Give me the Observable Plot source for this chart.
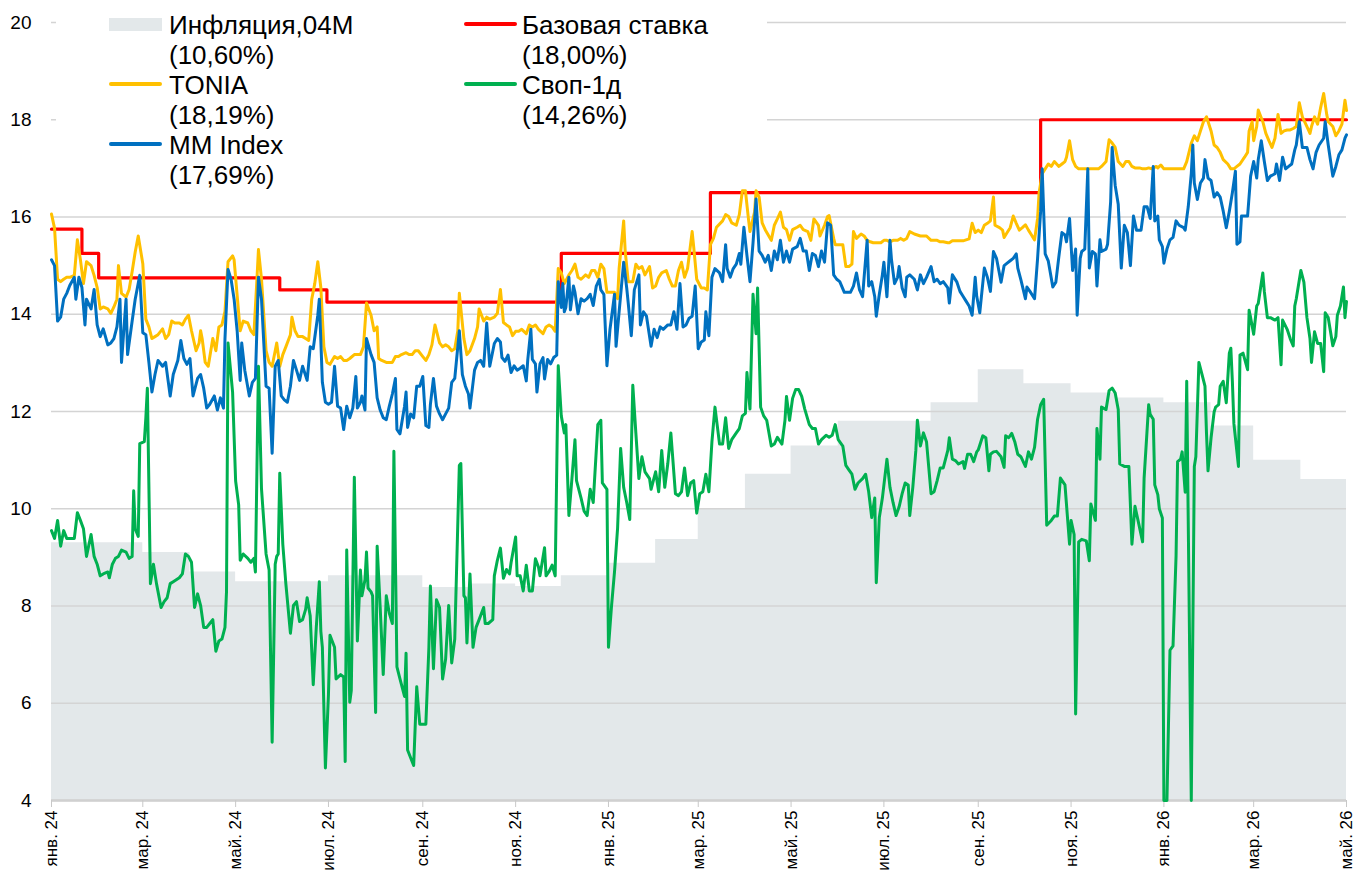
<!DOCTYPE html>
<html><head><meta charset="utf-8">
<script src="https://cdn.jsdelivr.net/npm/d3@7"></script>
<script src="https://cdn.jsdelivr.net/npm/@observablehq/plot@0.6"></script>
<style>
body{margin:0;background:#fff;font-family:"Liberation Sans",Arial,sans-serif;}
#wrap{position:relative;width:1356px;height:874px;overflow:hidden;}
#legend{position:absolute;left:56px;top:0;width:711px;height:186px;background:#fff;}
.txt{position:absolute;font-size:26px;line-height:30px;color:#000;white-space:pre;}
.sw{position:absolute;width:53px;}
</style></head><body><div id="wrap"></div>
<script>
// x values of the daily series are days since 1 Jan 2024
const START = Date.UTC(2024, 0, 1);

const yTicks = [4, 6, 8, 10, 12, 14, 16, 18, 20];
const xTickDates = ["2024-01-01","2024-03-01","2024-05-01","2024-07-01","2024-09-01","2024-11-01","2025-01-01","2025-03-01","2025-05-01","2025-07-01","2025-09-01","2025-11-01","2026-01-01","2026-03-01","2026-05-01"];
const xTickLabels = ["янв. 24","мар. 24","май. 24","июл. 24","сен. 24","ноя. 24","янв. 25","мар. 25","май. 25","июл. 25","сен. 25","ноя. 25","янв. 26","мар. 26","май. 26"];

// Inflation (monthly, step)
const inflMonths = ["2024-01","2024-02","2024-03","2024-04","2024-05","2024-06","2024-07","2024-08","2024-09","2024-10","2024-11","2024-12","2025-01","2025-02","2025-03","2025-04","2025-05","2025-06","2025-07","2025-08","2025-09","2025-10","2025-11","2025-12","2026-01","2026-02","2026-03","2026-04","2026-05"];
const inflValues = [9.3,9.3,9.1,8.7,8.5,8.5,8.62,8.62,8.38,8.45,8.4,8.62,8.88,9.37,10.0,10.71,11.29,11.8,11.8,12.18,12.86,12.57,12.38,12.28,12.18,11.7,11.0,10.6,10.6];

// Key rate (step)
const rateDays = [0,20,31,150,181,335,433,650,851];
const rateValues = [15.75,15.25,14.75,14.5,14.25,15.25,16.5,18.0,18.0];

const tonia = [[0,16.06],[2,15.77],[4,14.72],[6,14.67],[8,14.72],[10,14.76],[12,14.76],[15,14.8],[17,15.53],[19,15.12],[21,14.63],[23,15.08],[26,15.0],[28,14.8],[30,14.55],[32,14.11],[34,14.15],[37,14.11],[39,14.02],[41,14.15],[43,14.31],[44,15.0],[46,14.43],[49,14.35],[51,14.51],[53,14.88],[55,15.28],[57,15.61],[60,15.04],[62,13.9],[64,13.74],[66,13.5],[68,13.54],[70,13.58],[73,13.7],[75,13.5],[77,13.58],[79,13.86],[81,13.82],[84,13.82],[86,13.78],[88,13.9],[90,13.98],[92,13.66],[95,13.25],[97,13.41],[98,13.66],[99,13.5],[101,13.01],[103,12.93],[106,13.5],[108,13.25],[110,13.74],[112,13.78],[114,14.06],[116,15.08],[119,15.2],[120,15.12],[122,14.39],[124,13.66],[126,13.86],[129,13.82],[131,13.66],[133,13.58],[135,14.72],[136,15.33],[138,14.72],[141,13.25],[143,13.01],[145,12.93],
[148,13.41],[150,12.93],[152,13.17],[154,13.33],[157,13.58],[158,13.94],[160,13.66],[162,13.54],[165,13.54],[167,13.5],[169,13.46],[171,14.31],[173,14.63],[175,15.08],[177,14.55],[179,13.33],[181,13.01],[183,12.97],[186,13.13],[188,13.09],[190,13.13],[192,13.05],[194,13.05],[196,13.09],[199,13.17],[201,13.17],[203,13.17],[205,13.33],[207,14.23],[210,13.98],[212,13.66],[214,13.74],[215,13.09],[217,13.05],[220,13.01],[222,13.01],[224,13.01],[226,13.13],[228,13.13],[230,13.17],[233,13.21],[235,13.17],[237,13.17],[239,13.25],[241,13.25],[244,13.13],[246,13.05],[248,13.17],[250,13.37],[252,13.78],[255,13.41],[257,13.33],[259,13.37],[261,13.33],[263,13.25],[265,13.29],[267,13.66],[268,14.43],[271,13.5],[273,13.17],[275,13.25],[278,13.5],[280,13.74],[281,14.11],[284,13.86],[286,13.94],[288,13.9],[291,13.94],[293,14.02],[295,14.51],
[297,13.83],[299,13.78],[301,13.74],[303,13.56],[305,13.65],[307,13.65],[309,13.69],[312,13.6],[314,13.78],[316,13.74],[318,13.78],[320,13.69],[323,13.6],[325,13.74],[327,13.78],[329,13.74],[331,13.65],[333,14.94],[335,14.85],[337,14.63],[340,14.81],[342,14.9],[344,15.03],[346,14.76],[348,14.72],[351,14.81],[353,14.76],[355,14.9],[357,14.9],[359,14.76],[361,15.03],[363,14.94],[365,14.45],[367,14.45],[370,14.45],[372,14.32],[373,14.94],[376,15.92],[377,15.3],[379,14.67],[382,14.67],[384,15.03],[386,14.94],[388,14.98],[390,14.81],[393,14.98],[395,14.54],[397,14.58],[399,14.76],[401,14.85],[404,14.9],[406,14.72],[408,14.58],[410,14.58],[412,14.9],[414,15.07],[416,14.76],[418,14.94],[421,15.7],[422,15.39],[424,14.72],[427,14.54],[429,14.54],[431,14.5],[433,15.43],[435,15.56],[437,15.79],[441,15.92],[443,16.05],
[445,16.01],[447,15.88],[450,15.83],[452,16.05],[454,16.54],[456,16.54],[458,15.96],[459,15.7],[462,16.1],[463,16.54],[465,16.41],[467,15.88],[469,15.74],[473,15.52],[475,15.83],[477,15.96],[479,16.1],[481,15.79],[483,15.74],[485,15.52],[487,15.74],[490,15.79],[492,15.83],[494,15.74],[497,15.7],[499,15.52],[501,15.96],[504,15.83],[505,15.61],[508,15.83],[510,16.01],[511,16.03],[514,15.56],[515,15.43],[517,15.43],[520,15.43],[522,14.98],[524,14.98],[526,15.03],[527,15.7],[529,15.56],[532,15.65],[534,15.61],[536,15.52],[538,15.49],[540,15.47],[542,15.47],[545,15.47],[547,15.52],[549,15.52],[551,15.49],[553,15.52],[556,15.52],[558,15.56],[560,15.52],[562,15.56],[564,15.7],[567,15.65],[569,15.63],[571,15.61],[573,15.61],[575,15.61],[578,15.52],[580,15.52],[582,15.52],[584,15.49],[586,15.49],[589,15.47],[590,15.47],
[592,15.51],[594,15.51],[596,15.51],[599,15.51],[601,15.53],[603,15.55],[605,15.87],[607,15.68],[609,15.73],[611,15.68],[613,15.83],[615,15.87],[617,15.92],[619,16.41],[620,15.83],[623,15.78],[625,15.73],[626,15.58],[628,15.68],[630,15.78],[632,16.02],[634,15.87],[636,15.73],[638,15.78],[640,15.84],[642,15.73],[644,15.63],[646,15.53],[648,15.97],[649,16.5],[651,16.89],[653,16.99],[655,17.09],[657,17.04],[659,17.14],[662,17.04],[664,17.09],[666,17.14],[667,17.23],[669,17.57],[671,17.18],[673,17.04],[675,16.99],[677,16.99],[680,16.99],[682,16.99],[684,16.99],[686,16.99],[688,16.99],[690,17.04],[693,17.14],[695,17.59],[697,17.52],[699,17.43],[701,17.14],[704,17.04],[706,17.14],[708,17.14],[710,17.04],[712,17.01],[715,17.01],[717,16.99],[719,16.99],[721,17.01],[723,16.99],[726,17.04],
[727,17.01],[729,17.07],[731,16.99],[733,16.99],[735,16.99],[738,16.99],[740,16.99],[742,16.99],[744,16.99],[746,17.14],[749,17.52],[751,17.67],[753,17.57],[755,17.77],[757,17.96],[759,18.06],[762,17.77],[764,17.48],[766,17.43],[768,17.33],[770,17.18],[773,17.09],[775,16.99],[777,16.99],[779,17.04],[781,17.09],[784,17.23],[786,17.33],[787,17.77],[789,17.96],[790,17.57],[792,17.86],[793,18.2],[796,17.96],[798,17.72],[800,17.57],[802,17.43],[804,17.62],[806,18.11],[808,17.72],[810,17.77],[812,17.79],[814,17.79],[816,17.82],[818,17.86],[820,18.35],[822,18.06],[825,17.86],[827,17.72],[828,17.86],[830,18.06],[832,17.91],[834,18.25],[836,18.54],[838,18.11],[839,17.96],[842,17.86],[844,17.67],[846,17.77],[848,17.91],[850,18.4],[851,18.19]];

const mmIndex = [[0,15.12],[2,15.0],[4,13.86],[6,13.94],[8,14.31],[10,14.43],[12,14.59],[15,14.76],[16,14.31],[18,14.76],[20,14.55],[22,13.78],[23,14.31],[26,14.11],[28,14.51],[30,13.78],[32,13.54],[34,13.7],[37,13.37],[39,13.41],[41,13.5],[43,13.74],[45,14.31],[46,13.01],[49,14.31],[50,13.17],[53,13.86],[55,14.31],[58,14.8],[60,13.62],[62,13.58],[64,13.01],[66,12.4],[68,12.76],[70,13.05],[73,12.93],[75,13.01],[78,12.32],[80,12.76],[83,13.05],[85,13.46],[87,13.09],[89,12.97],[91,13.09],[93,12.32],[96,12.68],[98,12.76],[100,12.48],[102,12.07],[104,12.15],[107,12.32],[109,12.03],[111,12.28],[113,12.07],[114,13.5],[116,14.92],[118,14.72],[120,14.31],[122,13.66],[124,12.64],[125,13.41],[127,12.85],[130,12.32],[132,12.6],[134,12.68],[136,14.76],[138,14.31],[141,12.52],[143,12.48],[145,11.14],[147,12.93],
[149,13.05],[151,12.32],[153,12.24],[155,12.19],[157,12.52],[159,13.05],[161,12.85],[163,12.64],[165,12.93],[168,12.64],[170,13.33],[172,13.29],[175,13.98],[176,14.31],[178,12.6],[180,12.19],[182,12.15],[184,12.19],[186,12.93],[188,12.11],[190,12.07],[192,11.63],[194,12.11],[196,11.87],[198,12.07],[200,12.72],[201,12.07],[203,12.19],[204,12.32],[206,12.03],[207,13.5],[210,13.17],[212,13.01],[214,12.28],[216,12.03],[218,11.87],[220,11.83],[222,12.11],[224,12.36],[226,12.68],[227,11.63],[229,11.54],[232,12.11],[233,12.4],[234,11.67],[236,11.95],[238,11.87],[240,12.52],[242,12.52],[244,12.72],[246,11.71],[248,11.67],[249,12.15],[251,12.68],[253,12.11],[255,11.95],[257,11.83],[259,11.95],[261,12.07],[263,12.6],[265,12.68],[268,13.66],[270,12.76],[272,12.52],[274,12.36],[275,12.07],[278,12.85],[280,13.01],[282,13.05],[284,12.93],[286,13.82],[288,12.93],[291,13.4],[293,13.5],[295,13.43],
[296,13.11],[298,13.03],[300,13.16],[302,12.8],[304,12.94],[306,12.85],[308,12.89],[310,12.94],[312,12.63],[313,13.07],[315,13.69],[316,13.07],[318,12.98],[319,12.4],[321,12.98],[323,13.11],[324,12.67],[326,13.07],[328,12.98],[330,13.11],[332,13.16],[333,14.67],[335,14.14],[336,14.63],[337,14.05],[338,14.14],[340,14.76],[341,14.09],[343,14.58],[344,14.45],[346,14.01],[348,14.32],[350,14.27],[352,14.32],[354,14.41],[356,14.18],[358,14.58],[360,14.72],[361,14.5],[363,14.41],[365,12.94],[367,13.69],[370,14.41],[371,13.34],[373,14.05],[376,15.07],[378,14.54],[379,14.23],[381,13.56],[383,14.5],[386,14.81],[387,13.78],[389,14.05],[391,13.96],[394,13.34],[396,13.69],[398,13.52],[400,13.74],[402,13.69],[405,13.78],[407,13.78],[409,14.05],[411,13.69],[413,14.63],[415,13.74],[417,13.78],[419,13.92],[421,13.96],[423,14.58],[425,13.29],[427,13.43],[429,13.47],[430,14.05],[432,13.56],[434,14.76],[436,14.94],[439,14.85],[441,14.67],[443,15.43],
[444,14.94],[446,14.76],[448,14.94],[450,15.03],[452,15.25],[453,15.03],[455,15.79],[457,15.21],[459,14.67],[461,15.47],[463,16.37],[465,15.3],[467,15.21],[469,15.07],[471,15.21],[473,14.9],[475,15.3],[477,15.12],[479,15.52],[481,15.07],[483,15.3],[485,15.07],[487,15.34],[490,15.39],[492,15.56],[494,15.3],[496,15.3],[498,14.9],[500,15.25],[502,15.21],[504,14.98],[506,15.3],[508,15.07],[510,15.88],[512,15.83],[514,14.81],[516,14.72],[518,14.67],[521,14.45],[523,14.45],[525,14.45],[527,14.58],[529,14.85],[531,14.5],[533,14.36],[534,14.76],[536,15.52],[537,14.58],[539,14.67],[541,14.36],[542,13.96],[544,14.41],[546,14.81],[547,15.07],[549,14.36],[551,15.52],[552,15.12],[554,14.63],[556,14.76],[557,14.98],[559,14.54],[561,14.36],[562,14.76],[564,14.81],[567,14.72],[569,14.5],[571,14.81],[573,14.63],[575,14.76],[578,14.98],[580,14.67],[582,14.72],[584,14.63],[586,14.67],[589,14.54],[590,14.23],
[592,14.81],[595,14.66],[597,14.47],[599,14.37],[601,14.27],[603,14.17],[605,13.98],[607,14.76],[608,14.37],[610,14.03],[613,14.95],[615,14.76],[617,14.47],[619,15.29],[621,15.15],[624,14.66],[626,15.0],[628,15.05],[630,15.1],[632,15.15],[634,15.24],[635,14.95],[637,14.71],[640,14.32],[641,14.56],[643,14.47],[646,14.32],[648,15.15],[650,16.12],[651,16.99],[653,15.24],[655,15.1],[658,14.56],[660,14.66],[662,15.19],[664,15.68],[666,15.63],[667,15.49],[669,15.97],[671,14.9],[673,15.34],[674,13.98],[676,15.15],[677,15.29],[679,15.34],[681,16.99],[682,14.95],[684,15.29],[686,15.24],[687,14.58],[689,15.53],[690,15.29],[693,15.34],[694,15.44],[696,16.31],[697,17.43],[699,16.65],[701,16.26],[703,14.95],[705,15.83],[707,15.68],[709,15.0],[711,16.02],[713,15.73],[716,15.73],[718,16.21],[720,16.21],[722,15.97],[724,17.04],[725,15.92],
[727,16.02],[728,15.53],[730,15.39],[731,15.05],[733,15.34],[735,15.53],[737,15.58],[739,15.92],[741,15.83],[744,15.78],[745,15.73],[747,16.21],[749,16.89],[750,17.48],[751,16.7],[753,16.36],[755,16.7],[757,16.8],[758,17.18],[760,16.8],[762,16.75],[764,16.41],[766,16.5],[768,16.41],[770,16.12],[772,15.78],[774,16.12],[776,16.5],[778,16.94],[779,15.44],[781,15.49],[782,16.02],[785,16.02],[786,16.02],[788,16.84],[790,17.14],[792,16.8],[793,17.18],[795,17.57],[797,17.14],[799,16.75],[801,16.84],[804,16.89],[805,17.09],[807,16.75],[809,17.23],[811,16.99],[813,17.04],[815,17.09],[817,17.38],[818,17.48],[820,17.96],[822,17.43],[825,17.43],[827,17.18],[829,16.99],[831,17.33],[833,17.48],[836,17.62],[837,17.96],[839,17.48],[842,16.84],[844,17.04],[846,17.28],[848,17.38],[850,17.62],[851,17.69]];

const swap1d = [[0,9.55],[2,9.39],[4,9.76],[6,9.23],[8,9.55],[10,9.39],[12,9.39],[15,9.39],[17,9.92],[19,9.76],[21,9.59],[23,9.02],[26,9.47],[28,9.02],[30,8.86],[32,8.62],[34,8.66],[37,8.7],[38,8.58],[40,8.86],[42,8.98],[44,9.02],[46,9.15],[49,9.11],[51,8.98],[53,9.02],[54,10.37],[55,9.59],[57,9.43],[58,11.34],[61,11.38],[62,11.87],[63,12.48],[65,8.46],[67,8.86],[69,8.46],[72,7.97],[74,8.09],[76,8.17],[78,8.46],[80,8.5],[84,8.58],[86,8.66],[88,9.07],[90,9.02],[92,8.9],[94,7.97],[96,8.25],[98,8.01],[100,7.56],[102,7.56],[104,7.64],[106,7.72],[108,7.07],[110,7.28],[112,7.32],[114,7.56],[115,8.29],[116,13.41],[119,12.4],[121,10.57],[123,10.08],[124,8.94],[126,9.07],[129,8.98],[131,8.9],[133,8.98],[134,8.7],[136,12.93],[138,10.41],[141,9.07],[143,8.74],[145,5.2],[147,8.86],
[148,9.02],[149,9.07],[150,10.73],[152,9.27],[154,8.46],[157,7.44],[159,8.01],[161,8.09],[163,7.68],[165,7.72],[167,7.93],[168,8.17],[170,7.8],[172,6.38],[174,7.56],[176,8.5],[177,7.48],[178,7.15],[180,4.67],[182,6.18],[183,7.4],[186,7.15],[187,6.5],[190,6.59],[192,6.54],[193,4.8],[194,9.15],[196,6.02],[197,6.26],[199,10.65],[201,7.28],[203,8.74],[204,8.21],[206,8.54],[207,9.11],[208,8.37],[210,8.29],[211,8.21],[213,5.81],[214,9.23],[216,7.97],[218,6.59],[220,8.21],[222,7.85],[224,7.64],[225,11.18],[227,6.75],[229,6.5],[232,6.14],[233,7.03],[234,5.04],[236,4.88],[238,4.72],[240,6.34],[242,5.57],[244,5.57],[246,5.57],[248,7.15],[249,8.41],[251,6.71],[253,8.13],[255,7.97],[257,6.5],[259,6.91],[261,8.01],[263,6.83],[265,7.32],[268,10.89],[269,10.93],[271,8.21],[272,8.17],[273,7.24],[275,8.66],[277,7.15],[279,7.56],[281,7.72],[284,7.97],[285,7.64],[287,7.64],[290,7.72],[291,8.62],[293,8.94],[295,9.19],
[297,8.57],[299,8.75],[301,8.66],[302,8.89],[305,9.42],[306,8.62],[308,8.62],[310,8.31],[312,8.84],[314,8.31],[316,8.31],[318,8.97],[320,8.8],[321,8.62],[324,9.2],[325,8.62],[327,8.71],[329,8.84],[331,8.62],[333,12.94],[335,11.91],[337,11.56],[338,11.73],[340,9.86],[342,10.62],[344,11.42],[345,10.58],[348,10.22],[350,9.95],[352,9.86],[354,10.4],[356,10.13],[359,11.73],[361,11.82],[362,10.53],[365,10.4],[366,7.15],[368,7.99],[370,8.71],[372,9.6],[374,11.24],[376,10.44],[378,10.13],[380,9.78],[382,12.54],[384,11.56],[386,10.62],[388,11.07],[390,10.76],[393,10.62],[394,10.4],[397,10.76],[399,10.35],[401,11.2],[403,10.44],[405,10.93],[407,11.56],[410,10.31],[412,10.27],[414,10.35],[416,10.84],[418,10.27],[420,10.53],[422,10.58],[424,9.91],[426,10.31],[428,10.35],[430,10.71],[432,10.35],[434,11.38],[436,12.09],[439,11.33],[441,11.33],[443,11.87],
[445,11.24],[447,11.42],[450,11.56],[452,11.65],[454,11.91],[456,11.96],[457,12.8],[459,12.05],[461,14.41],[463,13.6],[464,14.54],[466,12.09],[468,11.91],[470,11.82],[473,11.29],[475,11.33],[477,11.47],[480,11.33],[482,11.82],[483,12.31],[485,11.82],[487,12.27],[489,12.45],[491,12.45],[493,12.31],[495,12.05],[498,11.73],[500,11.65],[502,11.65],[504,11.33],[506,11.42],[509,11.51],[511,11.47],[513,11.51],[515,11.73],[517,11.42],[520,11.29],[522,10.89],[524,10.8],[526,10.71],[528,10.4],[530,10.53],[533,10.62],[535,10.71],[537,10.35],[539,9.82],[541,10.22],[542,8.48],[544,9.82],[546,10.22],[549,11.02],[551,10.44],[553,10.13],[555,9.86],[557,10.04],[559,10.31],[561,10.53],[563,10.49],[564,9.86],[566,10.44],[568,11.2],[569,11.82],[571,11.29],[573,11.56],[575,11.38],[578,10.31],[580,10.35],[582,10.58],[584,10.84],[586,10.84],[589,11.2],[590,11.46],
[592,11.02],[594,10.99],[596,10.92],[599,10.97],[600,10.83],[602,11.12],[604,11.12],[606,10.97],[608,11.17],[609,11.21],[612,11.5],[614,11.46],[616,10.78],[617,11.12],[619,11.17],[621,11.18],[624,11.07],[626,10.85],[627,11.5],[629,11.46],[631,11.55],[633,11.38],[635,11.12],[637,11.07],[640,10.87],[642,11.17],[644,11.02],[646,11.26],[648,11.84],[650,12.14],[652,12.25],[654,9.66],[657,9.76],[659,9.85],[661,9.85],[663,10.63],[666,10.49],[669,9.27],[670,9.76],[672,9.47],[673,5.78],[675,9.32],[677,9.37],[680,9.34],[682,8.93],[683,10.1],[686,9.76],[687,11.65],[689,11.02],[690,12.09],[693,12.04],[695,12.43],[697,12.48],[699,12.38],[701,12.04],[702,10.92],[705,10.87],[707,10.87],[708,10.87],[710,9.27],[712,10.05],[714,9.76],[717,9.32],[718,10.63],[721,12.14],[722,11.94],[724,11.84],[725,10.49],
[727,10.29],[728,10.0],[730,9.81],[731,4.0],[733,4.0],[735,7.09],[737,7.18],[739,9.03],[740,10.97],[742,11.02],[743,11.17],[745,10.34],[746,12.62],[749,4.0],[751,10.87],[752,11.07],[754,13.01],[756,12.77],[758,12.52],[759,11.55],[760,10.78],[762,11.46],[764,11.99],[765,12.09],[767,12.14],[768,12.52],[770,12.62],[772,12.18],[774,13.2],[775,13.3],[776,12.62],[777,11.75],[780,10.87],[781,13.16],[783,13.2],[786,12.86],[787,14.08],[788,13.93],[790,13.59],[792,14.17],[793,14.22],[796,14.85],[797,14.47],[799,13.93],[801,13.93],[804,13.88],[806,13.93],[808,12.96],[809,13.88],[812,13.69],[814,13.5],[816,13.35],[817,14.17],[818,14.32],[821,14.9],[823,14.66],[825,13.93],[827,13.5],[828,13.01],[830,13.64],[832,13.4],[834,13.4],[836,12.82],[837,14.03],[839,13.93],[842,13.35],[844,13.54],[845,13.98],[847,14.17],[849,14.56],[850,13.93],[851,14.26]];

const legendItems = [
  {label:"Инфляция,04М", value:"(10,60%)", color:"#e3e8ea", kind:"area", col:0, row:0},
  {label:"Базовая ставка", value:"(18,00%)", color:"#ff0000", kind:"line", col:1, row:0},
  {label:"TONIA", value:"(18,19%)", color:"#ffc000", kind:"line", col:0, row:1},
  {label:"Своп-1д", value:"(14,26%)", color:"#00b050", kind:"line", col:1, row:1},
  {label:"MM Index", value:"(17,69%)", color:"#0070c0", kind:"line", col:0, row:2}
];

const day = d => new Date(START + d * 864e5);
const inflRows = inflMonths.map((m, i) => ({date: d3.utcParse("%Y-%m")(m), v: inflValues[i]}));
const rateRows = rateDays.map((d, i) => ({date: day(d), v: rateValues[i]}));
const toRows = arr => arr.map(([d, v]) => ({date: day(d), v}));
const xTicks = xTickDates.map(s => new Date(s));

const chart = Plot.plot({
  width: 1356, height: 874,
  marginLeft: 51, marginRight: 10, marginTop: 22, marginBottom: 74,
  style: {fontFamily: "'Liberation Sans', Arial, sans-serif", background: "#fff", color: "#000"},
  x: {type: "utc", domain: [new Date("2024-01-01"), new Date("2026-05-01")]},
  y: {domain: [4, 20]},
  marks: [
    Plot.areaY(inflRows, {x: "date", y1: 4, y2: "v", curve: "step-after", fill: "#e3e8ea"}),
    Plot.ruleY(yTicks, {stroke: "#d4d4d4", strokeWidth: 1.5}),
    Plot.ruleY([4], {stroke: "#d0d0d0", strokeWidth: 2.5}),
    Plot.axisY({ticks: yTicks, tickSize: 0, tickPadding: 20, fontSize: 19, fill: "#000", label: null}),
    Plot.axisX({ticks: xTicks, tickFormat: (d, i) => xTickLabels[i], tickRotate: -90, tickSize: 7, tickPadding: 3, fontSize: 17, stroke: "#c8c8c8", fill: "#000", label: null}),
    Plot.line(rateRows, {x: "date", y: "v", curve: "step-after", stroke: "#ff0000", strokeWidth: 3.2}),
    Plot.line(toRows(tonia), {x: "date", y: "v", stroke: "#ffc000", strokeWidth: 3, strokeLinejoin: "round"}),
    Plot.line(toRows(swap1d), {x: "date", y: "v", stroke: "#00b050", strokeWidth: 3, strokeLinejoin: "round"}),
    Plot.line(toRows(mmIndex), {x: "date", y: "v", stroke: "#0070c0", strokeWidth: 3, strokeLinejoin: "round"})
  ]
});

const wrap = document.getElementById("wrap");
wrap.appendChild(chart);

const legend = document.createElement("div");
legend.id = "legend";
const colSw = [109, 464], colTxt = [169, 522], rowTop = [10, 70, 130];
legendItems.forEach(it => {
  const sw = document.createElement("div");
  sw.className = "sw";
  sw.style.background = it.color;
  sw.style.left = (colSw[it.col] - 56) + "px";
  if (it.kind === "area") { sw.style.height = "13px"; sw.style.top = (rowTop[it.row] + 8) + "px"; }
  else { sw.style.height = "4px"; sw.style.top = (rowTop[it.row] + 12) + "px"; sw.style.borderRadius = "2px"; }
  legend.appendChild(sw);
  const t = document.createElement("div");
  t.className = "txt";
  t.style.left = (colTxt[it.col] - 56) + "px";
  t.style.top = rowTop[it.row] + "px";
  t.textContent = it.label + "\n" + it.value;
  legend.appendChild(t);
});
wrap.appendChild(legend);
</script></body></html>
